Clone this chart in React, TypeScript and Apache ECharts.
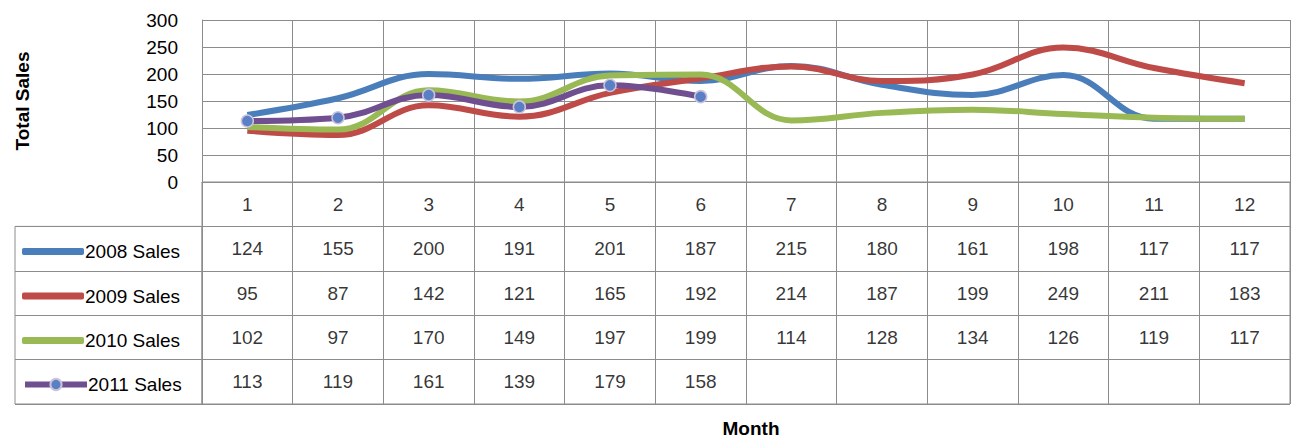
import { useEffect, useRef } from 'react';
import * as echarts from 'echarts';

const months = ['1', '2', '3', '4', '5', '6', '7', '8', '9', '10', '11', '12'];
const seriesNames = ['2008 Sales', '2009 Sales', '2010 Sales', '2011 Sales'];
const sales2008 = [124, 155, 200, 191, 201, 187, 215, 180, 161, 198, 117, 117];
const sales2009 = [95, 87, 142, 121, 165, 192, 214, 187, 199, 249, 211, 183];
const sales2010 = [102, 97, 170, 149, 197, 199, 114, 128, 134, 126, 119, 117];
const sales2011 = [113, 119, 161, 139, 179, 158];
const colors = ['#4a7ebb', '#be4b48', '#98b954', '#6f4f8f'];

const FONT = 'Liberation Sans';
const GRID_LINE = '#8c8c8c';

export default function App() {
  const chartRef = useRef<HTMLDivElement>(null);

  useEffect(() => {
    document.body.style.margin = '0';
    if (!chartRef.current) return;
    const chart = echarts.init(chartRef.current, undefined, { renderer: 'svg' });

    const allSeries = [sales2008, sales2009, sales2010, sales2011];

    // table cells: row 0 = month labels, rows 1..4 = values
    const cells: any[] = months.map((m, i) => ({ value: [i, 0], label: { formatter: m } }));
    allSeries.forEach((vals, r) => {
      vals.forEach((v, i) => {
        cells.push({ value: [i, r + 1], label: { formatter: String(v) } });
      });
    });

    const lineSeries: any[] = allSeries.map((vals, i) => ({
      name: seriesNames[i],
      type: 'line',
      xAxisIndex: 0,
      yAxisIndex: 0,
      data: vals,
      smooth: 0.4,
      symbol: i === 3 ? 'circle' : 'none',
      symbolSize: 12,
      showSymbol: i === 3,
      lineStyle: { width: 6, color: colors[i] },
      itemStyle: i === 3
        ? { color: '#5b7fc4', borderColor: '#c9c3dc', borderWidth: 1.5 }
        : { color: colors[i] },
      z: 3,
    }));

    const rowCenters = [248, 292.5, 337, 381];
    const legends: any[] = seriesNames.map((name, i) => ({
      left: 17,
      top: rowCenters[i] - 11,
      itemWidth: 62,
      itemHeight: i === 3 ? 14 : 7,
      itemGap: 0,
      lineStyle: { width: 6 },
      data: [i === 3 ? { name } : { name, icon: 'roundRect' }],
      textStyle: { fontFamily: FONT, fontSize: 19, color: '#000', padding: [0, 0, 0, -4] },
    }));

    const option: echarts.EChartsOption = {
      animation: false,
      textStyle: { fontFamily: FONT },
      title: {
        text: 'Month',
        left: 746,
        top: 414,
        textAlign: 'center',
        textStyle: { fontFamily: FONT, fontSize: 19, fontWeight: 'bold', color: '#000' },
      },
      legend: legends,
      grid: [
        { left: 202, right: 3, top: 20, height: 162, show: false },
        { left: 202, right: 3, top: 182, height: 222, show: true, borderColor: GRID_LINE, borderWidth: 1 },
        { left: 15, width: 187, top: 226.4, height: 177.6, show: true, borderColor: GRID_LINE, borderWidth: 1 },
      ],
      xAxis: [
        {
          type: 'category',
          gridIndex: 0,
          data: months,
          boundaryGap: true,
          axisLine: { lineStyle: { color: GRID_LINE } },
          axisTick: { show: false },
          axisLabel: { show: false },
          splitLine: { show: true, interval: 0, lineStyle: { color: GRID_LINE } },
        },
        {
          type: 'category',
          gridIndex: 1,
          data: months,
          boundaryGap: true,
          axisLine: { show: false },
          axisTick: { show: false },
          axisLabel: { show: false },
          splitLine: { show: true, interval: 0, lineStyle: { color: GRID_LINE } },
        },
        {
          type: 'value',
          gridIndex: 2,
          show: false,
        },
      ],
      yAxis: [
        {
          type: 'value',
          gridIndex: 0,
          min: 0,
          max: 300,
          interval: 50,
          name: 'Total Sales',
          nameLocation: 'middle',
          nameGap: 170,
          nameTextStyle: { fontFamily: FONT, fontSize: 19, fontWeight: 'bold', color: '#000' },
          axisLine: { show: true, lineStyle: { color: GRID_LINE } },
          axisTick: { show: false },
          axisLabel: { fontFamily: FONT, fontSize: 19, color: '#000', margin: 24 },
          splitLine: { show: true, lineStyle: { color: GRID_LINE } },
        },
        {
          type: 'category',
          gridIndex: 1,
          data: ['', ...seriesNames],
          inverse: true,
          boundaryGap: true,
          axisLine: { show: false },
          axisTick: { show: false },
          axisLabel: { show: false },
          splitLine: { show: true, interval: 0, lineStyle: { color: GRID_LINE } },
        },
        {
          type: 'category',
          gridIndex: 2,
          data: seriesNames,
          inverse: true,
          boundaryGap: true,
          axisLine: { show: false },
          axisTick: { show: false },
          axisLabel: { show: false },
          splitLine: { show: true, interval: 0, lineStyle: { color: GRID_LINE } },
        },
      ],
      series: [
        ...lineSeries,
        {
          type: 'scatter',
          xAxisIndex: 1,
          yAxisIndex: 1,
          symbolSize: 0,
          silent: true,
          data: cells,
          label: {
            show: true,
            position: 'inside',
            fontFamily: FONT,
            fontSize: 19,
            color: '#000',
          },
        },
      ],
    };

    chart.setOption(option);
    return () => chart.dispose();
  }, []);

  return <div ref={chartRef} style={{ width: 1293, height: 439 }} />;
}
